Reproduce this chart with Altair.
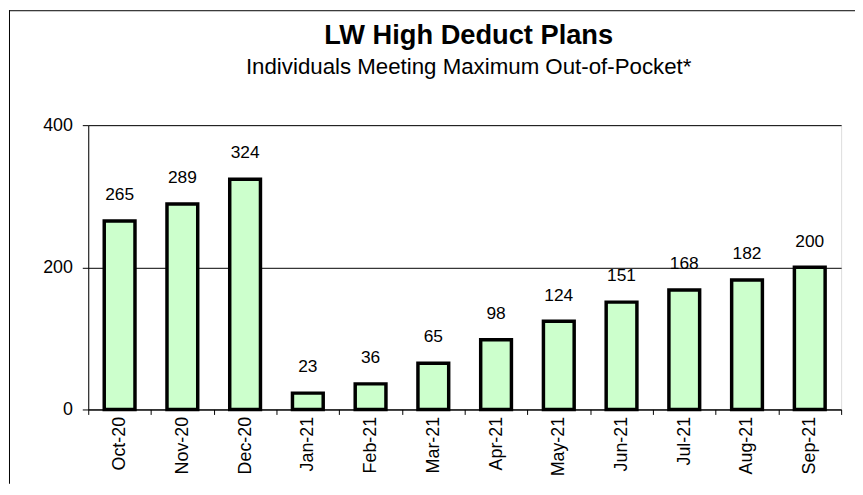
import altair as alt
import pandas as pd

months = ["Oct-20", "Nov-20", "Dec-20", "Jan-21", "Feb-21", "Mar-21",
          "Apr-21", "May-21", "Jun-21", "Jul-21", "Aug-21", "Sep-21"]
values = [265, 289, 324, 23, 36, 65, 98, 124, 151, 168, 182, 200]
y_ticks = [0, 200, 400]

FONT = "Liberation Sans"
df = pd.DataFrame({"month": months, "value": values})

x_enc = alt.X("month:N", sort=months,
              scale=alt.Scale(paddingInner=0, paddingOuter=0),
              axis=alt.Axis(title=None, labelAngle=-90, labelFontSize=18, labelFont=FONT,
                            labelColor="black", tickBand="extent", tickSize=5,
                            tickColor="black", domainColor="black", labelPadding=2,
                            grid=False))
y_enc = alt.Y("value:Q", scale=alt.Scale(domain=[0, 400], nice=False),
              axis=alt.Axis(title=None, values=y_ticks, grid=True, gridColor="black",
                            gridWidth=1, gridOpacity=1, tickSize=6, tickColor="black",
                            domainColor="black", labelPadding=10, labelFontSize=18,
                            labelFont=FONT, labelColor="black"))

base = alt.Chart(df)
bars = base.mark_bar(fill="#CCFFCC", stroke="black", strokeWidth=3.5,
                     width=alt.RelativeBandSize(0.49)).encode(x=x_enc, y=y_enc)
labels = base.mark_text(dy=-21, baseline="alphabetic", fontSize=17.5, font=FONT,
                        color="black").encode(x=x_enc, y=y_enc, text="value:Q")

frame = pd.DataFrame({"k": [0]})
top_line = alt.Chart(frame).mark_rule(color="black", strokeWidth=1).encode(
    x=alt.value(-80), x2=alt.value(774), y=alt.value(-115.5))
left_line = alt.Chart(frame).mark_rule(color="black", strokeWidth=1).encode(
    x=alt.value(-79.5), y=alt.value(-116), y2=alt.value(362))

chart = alt.layer(top_line, left_line, bars, labels).properties(
    width=760, height=287,
    autosize=alt.AutoSizeParams(type="none"),
    padding={"left": 81, "top": 116, "right": 14, "bottom": 75},
    title=alt.TitleParams("LW High Deduct Plans",
                          subtitle="Individuals Meeting Maximum Out-of-Pocket*",
                          font=FONT, fontSize=27.5, fontWeight="bold", color="black",
                          subtitleFont=FONT, subtitleFontSize=22.5, subtitleColor="black",
                          anchor="middle", frame="group", offset=-69,
                          subtitlePadding=6, dx=4),
).configure_view(stroke=None).configure(background="white")

chart.save("out.html", embed_options={"renderer": "svg", "actions": False})
